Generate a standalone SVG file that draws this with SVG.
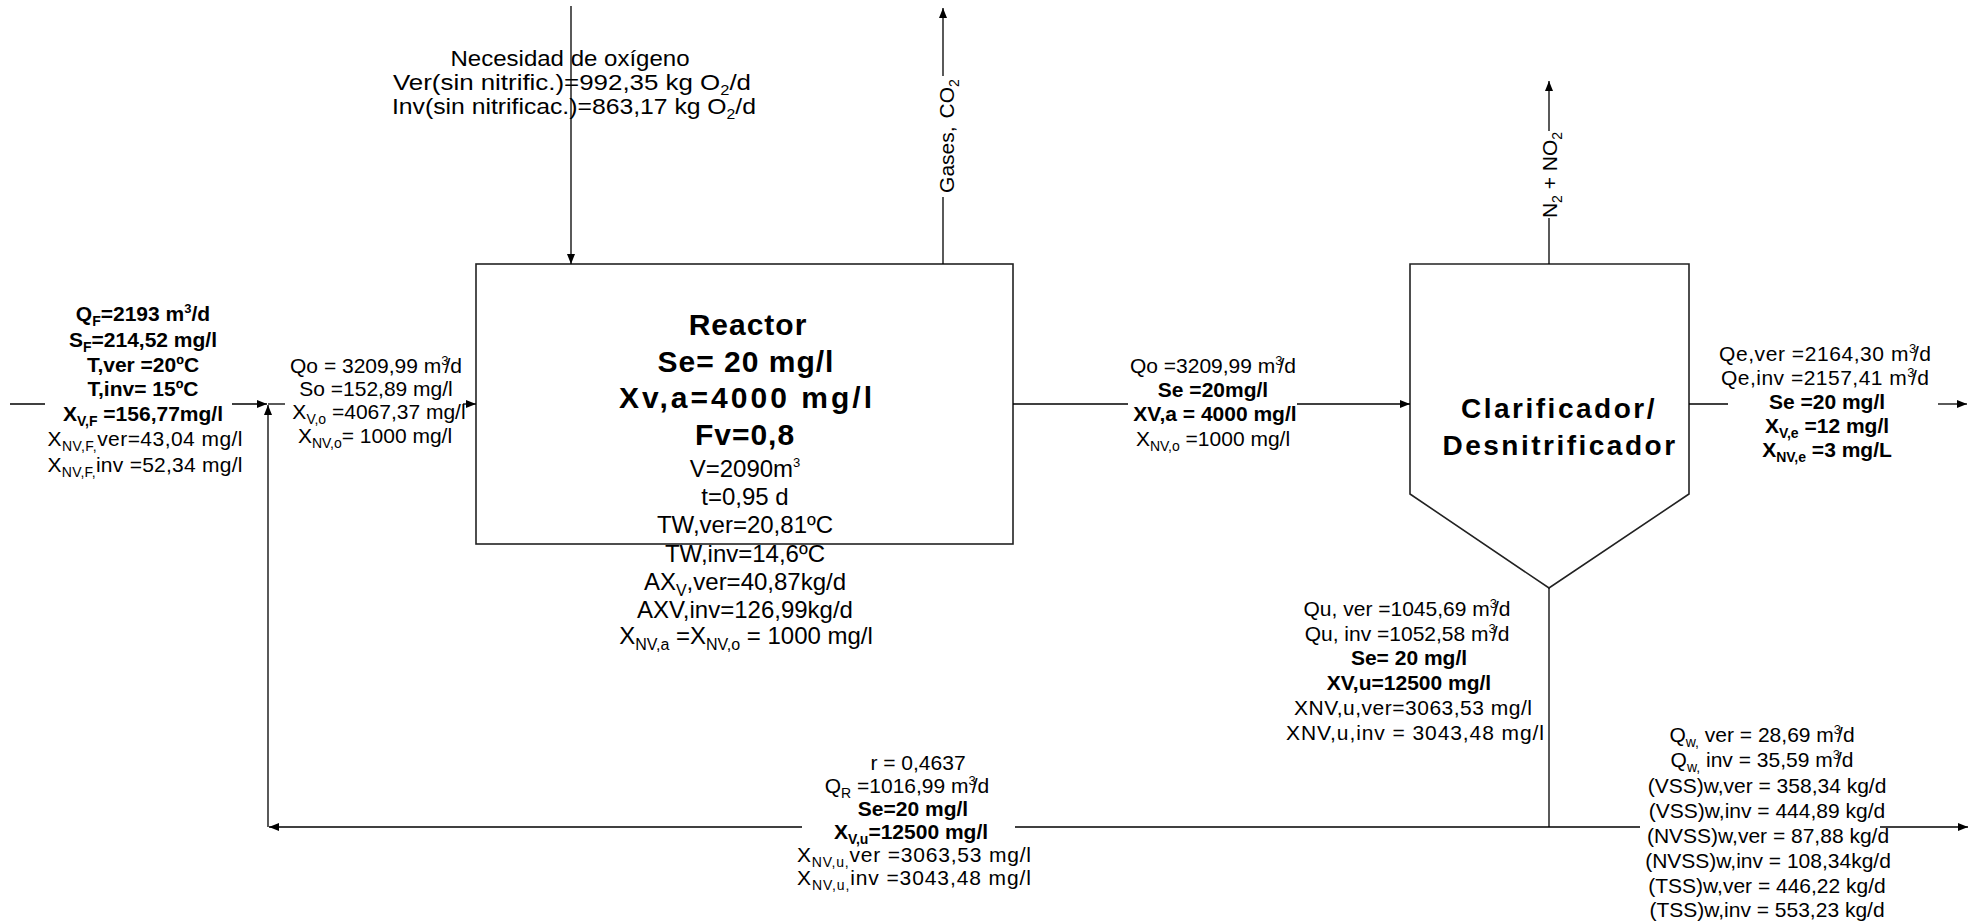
<svg xmlns="http://www.w3.org/2000/svg" width="1980" height="924" viewBox="0 0 1980 924">
  <style>
    .t { font-family: "Liberation Sans", Arial, sans-serif; font-size: 21px; text-anchor: middle; fill: #000; }
    .b { font-weight: bold; }
    .m { font-size: 24px; }
    .o { font-size: 22px; }
    .h { font-size: 30px; font-weight: bold; letter-spacing: 1px; }
    .h2 { font-size: 28px; font-weight: bold; letter-spacing: 2.5px; }
    .s { font-size: 14px; }
    .sm { font-size: 16px; }
    .p { font-size: 13px; }
    .ln { fill: none; stroke: #000; stroke-width: 1.3; }
    .box { fill: #fff; stroke: #222; stroke-width: 1.6; }
  </style>
  <defs>
    <marker id="ah" viewBox="0 0 10 8" refX="10" refY="4" markerWidth="10" markerHeight="8" markerUnits="userSpaceOnUse" orient="auto">
      <path d="M0,0 L10,4 L0,8 z" fill="#000"/>
    </marker>
  </defs>
  <rect width="1980" height="924" fill="#fff"/>

  <!-- process units -->
  <g id="reactor">
    <rect class="box" x="476" y="264" width="537" height="280"/>
  </g>
  <g id="clarifier">
    <polygon class="box" points="1410,264 1689,264 1689,494 1549,588 1410,494"/>
  </g>

  <!-- flow lines -->
  <g id="connectors">
    <path class="ln" d="M10,404 H45"/>
    <path class="ln" d="M232,404 H267" marker-end="url(#ah)"/>
    <path class="ln" d="M268,404 H285"/>
    <path class="ln" d="M463,404 H476" marker-end="url(#ah)"/>
    <path class="ln" d="M268,827 V405" marker-end="url(#ah)"/>
    <path class="ln" d="M571,6 V264" marker-end="url(#ah)"/>
    <path class="ln" d="M943,264 V197"/>
    <path class="ln" d="M943,76 V8" marker-end="url(#ah)"/>
    <path class="ln" d="M1013,404 H1128"/>
    <path class="ln" d="M1297,404 H1410" marker-end="url(#ah)"/>
    <path class="ln" d="M1549,264 V218"/>
    <path class="ln" d="M1549,131 V81" marker-end="url(#ah)"/>
    <path class="ln" d="M1689,404 H1728"/>
    <path class="ln" d="M1938,404 H1967" marker-end="url(#ah)"/>
    <path class="ln" d="M1549,588 V827"/>
    <path class="ln" d="M1549,827 H1015"/>
    <path class="ln" d="M802,827 H269" marker-end="url(#ah)"/>
    <path class="ln" d="M1549,827 H1640"/>
    <path class="ln" d="M1880,827 H1968" marker-end="url(#ah)"/>
  </g>

  <!-- feed stream -->
  <g id="feed-label">
    <text class="t b" x="143" y="321">Q<tspan class="s" dy="5">F</tspan><tspan dy="-5">=2193 m</tspan><tspan class="p" dy="-8">3</tspan><tspan dy="8">/d</tspan></text>
    <text class="t b" x="143" y="347">S<tspan class="s" dy="5">F</tspan><tspan dy="-5">=214,52 mg/l</tspan></text>
    <text class="t b" x="143" y="372">T,ver =20ºC</text>
    <text class="t b" x="143" y="396">T,inv= 15ºC</text>
    <text class="t b" x="143" y="421">X<tspan class="s" dy="5">V,F</tspan><tspan dy="-5"> =156,77mg/l</tspan></text>
    <text class="t" x="145" y="446" textLength="195" lengthAdjust="spacing">X<tspan class="s" dy="5">NV,F,</tspan><tspan dy="-5">ver=43,04 mg/l</tspan></text>
    <text class="t" x="145" y="472" textLength="195" lengthAdjust="spacing">X<tspan class="s" dy="5">NV,F,</tspan><tspan dy="-5">inv =52,34 mg/l</tspan></text>
  </g>

  <!-- reactor inlet -->
  <g id="inlet-label">
    <text class="t" x="376" y="373">Qo = 3209,99 m<tspan class="p" dy="-8">3</tspan><tspan dy="8" dx="-4">/d</tspan></text>
    <text class="t" x="376" y="396">So =152,89 mg/l</text>
    <text class="t" x="379" y="419">X<tspan class="s" dy="5">V,o</tspan><tspan dy="-5"> =4067,37 mg/l</tspan></text>
    <text class="t" x="375" y="443">X<tspan class="s" dy="5">NV,o</tspan><tspan dy="-5">= 1000 mg/l</tspan></text>
  </g>

  <!-- oxygen demand -->
  <g id="oxygen-label">
    <text class="t o" x="570" y="66" textLength="239" lengthAdjust="spacingAndGlyphs">Necesidad de oxígeno</text>
    <text class="t o" x="572" y="90" textLength="358" lengthAdjust="spacingAndGlyphs">Ver(sin nitrific.)=992,35 kg O<tspan class="s" dy="5">2</tspan><tspan dy="-5">/d</tspan></text>
    <text class="t o" x="574" y="114" textLength="364" lengthAdjust="spacingAndGlyphs">Inv(sin nitrificac.)=863,17 kg O<tspan class="s" dy="5">2</tspan><tspan dy="-5">/d</tspan></text>
  </g>

  <!-- reactor data -->
  <g id="reactor-label">
    <text class="t h" x="748" y="335" letter-spacing="2">Reactor</text>
    <text class="t h" x="746" y="372">Se= 20 mg/l</text>
    <text class="t h" x="746" y="408" textLength="254" lengthAdjust="spacing">Xv,a=4000 mg/l</text>
    <text class="t h" x="745" y="445">Fv=0,8</text>
    <text class="t m" x="745" y="477">V=2090m<tspan class="p" dy="-10">3</tspan></text>
    <text class="t m" x="745" y="505">t=0,95 d</text>
    <text class="t m" x="745" y="533">TW,ver=20,81ºC</text>
    <text class="t m" x="745" y="562">TW,inv=14,6ºC</text>
    <text class="t m" x="745" y="590">AX<tspan class="sm" dy="6">V</tspan><tspan dy="-6">,ver=40,87kg/d</tspan></text>
    <text class="t m" x="745" y="618">AXV,inv=126,99kg/d</text>
    <text class="t m" x="746" y="644">X<tspan class="sm" dy="6">NV,a</tspan><tspan dy="-6"> =X</tspan><tspan class="sm" dy="6">NV,o</tspan><tspan dy="-6"> = 1000 mg/l</tspan></text>
  </g>

  <!-- gas vent -->
  <g id="gases-label">
    <text class="t" transform="translate(954,136) rotate(-90)">Gases,<tspan dx="8">CO</tspan><tspan class="s" dy="5">2</tspan></text>
  </g>

  <!-- mixed liquor to clarifier -->
  <g id="mixed-liquor-label">
    <text class="t" x="1213" y="373">Qo =3209,99 m<tspan class="p" dy="-8">3</tspan><tspan dy="8" dx="-4">/d</tspan></text>
    <text class="t b" x="1213" y="397">Se =20mg/l</text>
    <text class="t b" x="1215" y="421">XV,a = 4000 mg/l</text>
    <text class="t" x="1213" y="446">X<tspan class="s" dy="5">NV,o</tspan><tspan dy="-5"> =1000 mg/l</tspan></text>
  </g>

  <!-- clarifier title -->
  <g id="clarifier-label">
    <text class="t h2" x="1559" y="418">Clarificador/</text>
    <text class="t h2" x="1560" y="455">Desnitrificador</text>
  </g>

  <!-- nitrogen vent -->
  <g id="nitrogen-label">
    <text class="t" transform="translate(1557,175) rotate(-90)">N<tspan class="s" dy="5">2</tspan><tspan dy="-5"> + NO</tspan><tspan class="s" dy="5">2</tspan></text>
  </g>

  <!-- effluent -->
  <g id="effluent-label">
    <text class="t" x="1825" y="361" textLength="212" lengthAdjust="spacing">Qe,ver =2164,30 m<tspan class="p" dy="-8">3</tspan><tspan dy="8" dx="-4">/d</tspan></text>
    <text class="t" x="1825" y="385" textLength="208" lengthAdjust="spacing">Qe,inv  =2157,41 m<tspan class="p" dy="-8">3</tspan><tspan dy="8" dx="-4">/d</tspan></text>
    <text class="t b" x="1827" y="409">Se =20 mg/l</text>
    <text class="t b" x="1827" y="433">X<tspan class="s" dy="5">V,e</tspan><tspan dy="-5"> =12 mg/l</tspan></text>
    <text class="t b" x="1827" y="457">X<tspan class="s" dy="5">NV,e</tspan><tspan dy="-5"> =3 mg/L</tspan></text>
  </g>

  <!-- underflow -->
  <g id="underflow-label">
    <text class="t" x="1407" y="616">Qu, ver =1045,69 m<tspan class="p" dy="-8">3</tspan><tspan dy="8" dx="-4">/d</tspan></text>
    <text class="t" x="1407" y="641">Qu, inv  =1052,58 m<tspan class="p" dy="-8">3</tspan><tspan dy="8" dx="-4">/d</tspan></text>
    <text class="t b" x="1409" y="665">Se= 20 mg/l</text>
    <text class="t b" x="1409" y="690">XV,u=12500 mg/l</text>
    <text class="t" x="1413" y="715" textLength="238" lengthAdjust="spacing">XNV,u,ver=3063,53 mg/l</text>
    <text class="t" x="1415" y="740" textLength="258" lengthAdjust="spacing">XNV,u,inv = 3043,48 mg/l</text>
  </g>

  <!-- recycle -->
  <g id="recycle-label">
    <text class="t" x="918" y="770">r = 0,4637</text>
    <text class="t" x="907" y="793">Q<tspan class="s" dy="5">R</tspan><tspan dy="-5"> =1016,99 m</tspan><tspan class="p" dy="-8">3</tspan><tspan dy="8" dx="-4">/d</tspan></text>
    <text class="t b" x="913" y="816">Se=20 mg/l</text>
    <text class="t b" x="911" y="839">X<tspan class="s" dy="5">V,u</tspan><tspan dy="-5">=12500 mg/l</tspan></text>
    <text class="t" x="914" y="862" textLength="234" lengthAdjust="spacing">X<tspan class="s" dy="5">NV,u,</tspan><tspan dy="-5">ver =3063,53 mg/l</tspan></text>
    <text class="t" x="914" y="885" textLength="234" lengthAdjust="spacing">X<tspan class="s" dy="5">NV,u,</tspan><tspan dy="-5">inv =3043,48 mg/l</tspan></text>
  </g>

  <!-- waste sludge -->
  <g id="waste-label">
    <text class="t" x="1762" y="742">Q<tspan class="s" dy="5">w,</tspan><tspan dy="-5"> ver = 28,69 m</tspan><tspan class="p" dy="-8">3</tspan><tspan dy="8" dx="-4">/d</tspan></text>
    <text class="t" x="1762" y="767">Q<tspan class="s" dy="5">w,</tspan><tspan dy="-5"> inv  = 35,59 m</tspan><tspan class="p" dy="-8">3</tspan><tspan dy="8" dx="-4">/d</tspan></text>
    <text class="t" x="1767" y="793">(VSS)w,ver = 358,34 kg/d</text>
    <text class="t" x="1767" y="818">(VSS)w,inv  = 444,89 kg/d</text>
    <text class="t" x="1768" y="843">(NVSS)w,ver = 87,88 kg/d</text>
    <text class="t" x="1768" y="868">(NVSS)w,inv  = 108,34kg/d</text>
    <text class="t" x="1767" y="893">(TSS)w,ver = 446,22 kg/d</text>
    <text class="t" x="1767" y="917">(TSS)w,inv  = 553,23 kg/d</text>
  </g>
</svg>
